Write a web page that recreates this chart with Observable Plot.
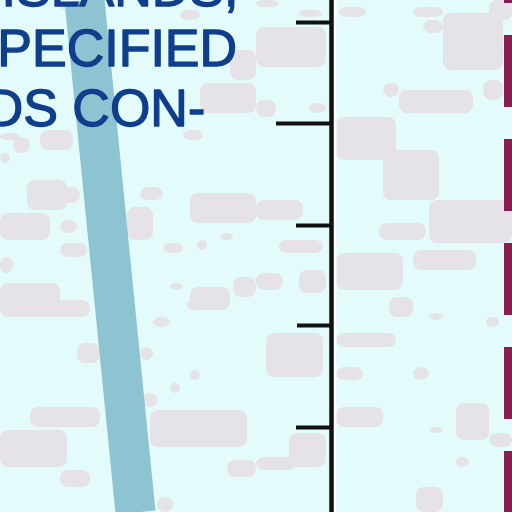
<!DOCTYPE html>
<html>
<head>
<meta charset="utf-8">
<script src="https://cdn.jsdelivr.net/npm/d3@7"></script>
<script src="https://cdn.jsdelivr.net/npm/@observablehq/plot@0.6"></script>
<style>
  html, body { margin: 0; padding: 0; background: #e4fbfc; overflow: hidden; }
  #chart svg { display: block; }
</style>
</head>
<body>
<div id="chart"></div>
<script>
// Label lines (map annotation, partly cut off at the left/top)
const labelLines = ["ISLANDS,", "UNSPECIFIED", "LANDS CON-"];
const labelX = [238, -113, -116];
const labelAnchor = ["end", "start", "start"];
const labelBaseline = [5, 65, 125];

// Channel band (centre line points)
const bandX = [84, 135];
const bandY = [0, 512];

// Graticule / boundary line with ticks
const axisX = 331;
const tickY = [22, 123, 225, 325, 427];
const tickStart = [296, 276, 296, 297, 296];

// Dashed boundary at right edge
const dashX = 508;

// Gray ice patches: [x1, x2, y1, y2]
const patches = [
  [256,279,0,7],[299,322,10,17],[256,326,27,67],[339,366,7,17],[413,443,7,17],
  [423,443,20,33],[443,503,13,70],[489,512,0,20],[256,276,100,117],[383,399,83,97],
  [399,473,90,113],[483,503,80,100],[336,396,117,160],[383,439,150,200],[309,326,103,113],
  [256,303,200,220],[429,512,200,243],[379,426,223,240],[413,476,250,270],[336,403,253,290],
  [279,323,240,253],[256,283,273,290],[299,326,270,293],[389,413,297,317],[429,443,313,320],
  [486,499,317,327],[336,396,333,347],[266,323,333,377],[336,363,367,380],[413,429,367,380],
  [336,383,407,427],[456,489,403,440],[489,512,433,447],[429,443,427,433],[289,326,433,467],
  [256,296,457,470],[456,469,457,467],[416,443,487,512],
  [0,90,300,317],[187,227,300,310],[153,170,317,327],[77,100,343,363],[140,153,347,360],
  [170,180,383,393],[190,200,370,380],[143,157,393,407],[30,100,407,427],[0,67,430,467],
  [150,247,410,447],[60,90,470,487],[227,256,460,477],[157,173,497,512],
  [13,30,137,153],[40,73,130,150],[0,10,153,163],[27,67,180,210],[60,80,187,203],
  [0,50,213,240],[60,77,220,233],[60,87,243,257],[0,13,257,273],[0,60,283,310],
  [127,153,207,240],[140,163,187,200],[190,256,193,223],[163,183,243,253],[197,207,240,250],
  [220,233,233,240],[183,203,130,140],[233,256,277,297],[190,230,287,310],[170,183,283,290],
  [60,100,5,10],[180,200,10,20],[230,256,50,80],[200,256,83,113],[0,20,133,140]
];

const patchData = patches.map(([x1, x2, y1, y2]) => ({x1, x2, y1, y2}));
const bandData = bandX.map((x, i) => ({x, y: bandY[i]}));
const labelData = labelLines.map((t, i) => ({t, x: labelX[i], y: labelBaseline[i], a: labelAnchor[i]}));
const tickData = tickY.map((y, i) => ({y, x1: tickStart[i], x2: axisX}));

const textStyle = {
  x: "x", y: "y", text: "t", lineAnchor: "bottom",
  fill: "#0f3e8c", stroke: "#0f3e8c", strokeWidth: 1.3,
  fontSize: 52, fontFamily: "Liberation Sans, Arial, sans-serif"
};

const chart = Plot.plot({
  width: 512,
  height: 512,
  margin: 0,
  x: {domain: [0, 512], range: [0, 512], axis: null},
  y: {domain: [0, 512], range: [0, 512], axis: null},
  style: {background: "#e4fbfc", overflow: "hidden"},
  marks: [
    Plot.rect(patchData, {x1: "x1", x2: "x2", y1: "y1", y2: "y2", fill: "#e5e3e8", rx: 8}),
    Plot.line(bandData, {x: "x", y: "y", stroke: "#8ec3d2", strokeWidth: 40, strokeLinecap: "butt"}),
    Plot.text(labelData.filter(d => d.a === "start"), {...textStyle, textAnchor: "start"}),
    Plot.text(labelData.filter(d => d.a === "end"), {...textStyle, textAnchor: "end"}),
    Plot.ruleX([axisX + 3.7], {stroke: "#ffffff", strokeWidth: 2.5}),
    Plot.ruleY(tickData, {y: "y", x1: "x1", x2: "x2", stroke: "#111111", strokeWidth: 4}),
    Plot.ruleX([axisX], {stroke: "#111111", strokeWidth: 4.5}),
    Plot.ruleX([dashX], {stroke: "#8c1d50", strokeWidth: 9, strokeDasharray: "72,32", strokeDashoffset: 69})
  ]
});
document.getElementById("chart").appendChild(chart);
</script>
</body>
</html>
